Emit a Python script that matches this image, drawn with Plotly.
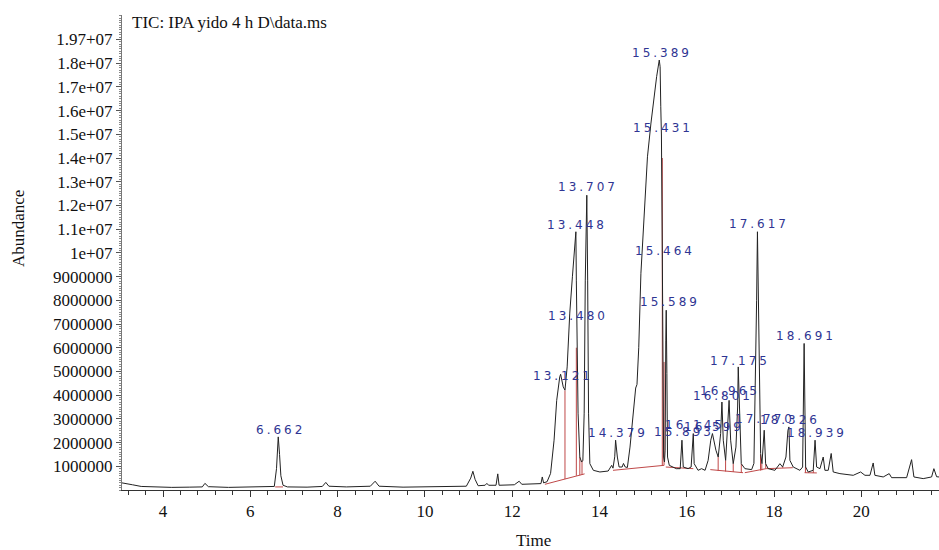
import numpy as np
import plotly.graph_objects as go

# ---- chromatogram trace (time in min, abundance in millions) ----
time_min = [3.06, 3.15, 3.30, 3.50, 3.80, 4.20, 4.60, 4.90, 4.96, 5.04, 5.50, 6.00, 6.40, 6.55,
            6.60, 6.64, 6.67, 6.70, 6.75, 6.85, 7.30, 7.65, 7.73, 7.80, 8.20, 8.75, 8.86, 8.95,
            9.50, 10.00, 10.50, 10.95, 11.05, 11.10, 11.15, 11.22, 11.38, 11.42, 11.46, 11.63,
            11.67, 11.70, 12.05, 12.16, 12.22, 12.50, 12.66, 12.69, 12.72, 12.80, 12.88, 12.96,
            13.02, 13.09, 13.11, 13.17, 13.21, 13.26, 13.32, 13.38, 13.44, 13.46, 13.47, 13.49,
            13.51, 13.55, 13.59, 13.62, 13.65, 13.675, 13.71, 13.73, 13.75, 13.78, 13.86, 14.01,
            14.20, 14.28, 14.31, 14.35, 14.37, 14.41, 14.45, 14.52, 14.55, 14.59, 14.64, 14.70,
            14.78, 14.83, 14.86, 14.90, 14.95, 15.03, 15.10, 15.18, 15.26, 15.31, 15.37, 15.39,
            15.405, 15.42, 15.44, 15.455, 15.47, 15.49, 15.505, 15.52, 15.53, 15.545, 15.56,
            15.60, 15.69, 15.76, 15.85, 15.89, 15.92, 16.03, 16.10, 16.15, 16.17, 16.26, 16.34,
            16.42, 16.49, 16.55, 16.589, 16.668, 16.721, 16.777, 16.806, 16.837, 16.891, 16.944,
            16.97, 17.006, 17.065, 17.127, 17.166, 17.18, 17.219, 17.249, 17.333, 17.487, 17.539,
            17.569, 17.601, 17.62, 17.645, 17.67, 17.693, 17.723, 17.762, 17.775, 17.807, 17.867,
            18.02, 18.135, 18.197, 18.273, 18.319, 18.341, 18.364, 18.44, 18.593, 18.655, 18.69,
            18.724, 18.783, 18.898, 18.94, 18.976, 19.052, 19.127, 19.166, 19.242, 19.31, 19.356,
            19.51, 19.815, 19.984, 20.083, 20.198, 20.272, 20.311, 20.502, 20.639, 20.694, 21.038,
            21.152, 21.205, 21.418, 21.61, 21.663, 21.725, 21.78]
abundance_e6 = [0.30, 0.28, 0.22, 0.15, 0.12, 0.11, 0.12, 0.13, 0.28, 0.14, 0.11, 0.12, 0.13, 0.15,
                0.90, 2.24, 1.50, 0.60, 0.20, 0.13, 0.12, 0.15, 0.32, 0.16, 0.13, 0.16, 0.37, 0.16,
                0.12, 0.13, 0.14, 0.16, 0.50, 0.79, 0.45, 0.18, 0.20, 0.28, 0.20, 0.20,
                0.68, 0.20, 0.22, 0.37, 0.24, 0.25, 0.27, 0.55, 0.30, 0.35, 0.70, 2.10,
                3.78, 4.77, 4.88, 4.35, 4.21, 5.19, 7.46, 8.99, 10.40, 10.89, 8.85, 6.03,
                3.24, 1.39, 1.18, 1.25, 3.24, 8.85, 12.43, 8.85, 3.24, 1.11, 0.83, 0.76,
                0.80, 1.04, 0.92, 1.40, 2.10, 1.39, 0.97, 0.97, 1.12, 0.97, 0.95, 1.81,
                3.24, 4.30, 4.45, 6.00, 9.14, 11.94, 14.05, 15.47, 16.86, 17.43, 18.13, 17.85,
                16.16, 14.97, 10.00, 4.92, 1.39, 1.18, 1.68, 6.32, 7.58, 4.92, 1.39,
                1.04, 0.97, 0.90, 0.90, 2.10, 0.97, 0.90, 0.97, 2.38, 1.11, 0.83, 0.90,
                0.83, 1.25, 2.10, 2.38, 1.68, 1.39, 2.38, 3.71, 2.10, 1.25, 2.66,
                3.78, 2.10, 1.11, 1.81, 3.50, 5.19, 2.38, 1.11, 0.90, 0.86, 1.12,
                3.78, 8.00, 10.89, 8.00, 3.78, 1.54, 1.11, 2.10, 2.52, 1.11, 0.90,
                0.83, 1.11, 0.97, 1.39, 2.52, 2.66, 1.25, 0.97, 0.83, 0.97, 6.18,
                0.97, 0.76, 0.83, 2.10, 0.97, 0.90, 1.39, 0.83, 0.83, 1.54, 0.76,
                0.69, 0.62, 0.76, 0.62, 0.62, 1.14, 0.62, 0.55, 0.69, 0.52, 0.52,
                1.28, 0.55, 0.48, 0.55, 0.90, 0.56, 0.55]

# ---- integration baselines (red), None separates segments ----
base_t = [6.57, 6.75, None, 12.75, 13.66, None, 14.31, 15.48, None, 15.52, 16.15, None,
          16.54, 17.29, None, 17.33, 17.82, 18.43, None, 18.70, 18.98]
base_v = [0.13, 0.13, None, 0.24, 0.68, None, 0.83, 1.04, None, 0.97, 0.90, None,
          0.86, 0.73, None, 0.73, 0.90, 0.94, None, 0.73, 0.72]

# ---- drop lines (red verticals) ----
drop_t = [13.21, 13.47, 13.55, 13.60, 15.44, 15.48, 16.72, 16.89, 17.065, 17.25, 17.69, 17.72,
          17.81, 18.20, 18.72, 18.90]
drop_lo = [0.46, 0.60, 0.62, 0.64, 1.04, 1.04, 0.80, 0.78, 0.76, 0.73, 0.82, 0.83, 0.90, 0.93,
           0.73, 0.72]
drop_hi = [4.20, 6.00, 1.39, 1.25, 14.00, 5.40, 1.39, 1.25, 1.11, 1.10, 1.50, 1.11, 1.11, 0.97,
           0.97, 0.83]

# ---- peak labels ----
peak_text = ["6.662", "13.121", "13.448", "13.480", "13.707", "14.379", "15.389", "15.431",
             "15.464", "15.589", "15.893", "16.145", "16.599", "16.801", "16.965", "17.175",
             "17.617", "17.770", "18.326", "18.691", "18.939"]
peak_label_y_e6 = [2.52, 4.80, 11.17, 7.32, 12.77, 2.39, 18.41, 15.25, 10.08, 7.93, 2.43, 2.73,
                   2.67, 3.95, 4.18, 5.43, 11.21, 3.01, 2.97, 6.49, 2.42]

# ---- axis ticks ----
y_tickvals_e6 = [1, 2, 3, 4, 5, 6, 7, 8, 9, 10, 11, 12, 13, 14, 15, 16, 17, 18, 19]
y_ticktext = ["1000000", "2000000", "3000000", "4000000", "5000000", "6000000", "7000000",
              "8000000", "9000000", "1e+07", "1.1e+07", "1.2e+07", "1.3e+07", "1.4e+07",
              "1.5e+07", "1.6e+07", "1.7e+07", "1.8e+07", "1.97+07"]
x_tickvals = [4, 6, 8, 10, 12, 14, 16, 18, 20]

M = 1e6
serif = "Liberation Serif, Times New Roman, serif"

fig = go.Figure()

bx, by = [], []
for t, v in zip(base_t, base_v):
    bx.append(t)
    by.append(None if v is None else v * M)
for t, lo, hi in zip(drop_t, drop_lo, drop_hi):
    bx += [None, t, t]
    by += [None, lo * M, hi * M]
fig.add_trace(go.Scatter(x=bx, y=by, mode="lines", line=dict(color="#bf4848", width=1),
                         hoverinfo="skip", showlegend=False))

fig.add_trace(go.Scatter(x=time_min, y=np.array(abundance_e6) * M, mode="lines",
                         line=dict(color="#222222", width=1), showlegend=False))

for txt, ly in zip(peak_text, peak_label_y_e6):
    fig.add_annotation(x=float(txt), y=ly * M, xref="x", yref="y",
                       text='<span style="letter-spacing:3px">' + txt + '</span>',
                       showarrow=False, xanchor="center", yanchor="middle", xshift=1.5,
                       font=dict(family="DejaVu Sans", size=12, color="#2f3593"))

fig.add_annotation(x=(130 - 122) / 817, y=(490 - 23) / 475, xref="paper", yref="paper",
                   text="TIC: IPA yido 4 h D\\data.ms", showarrow=False, xanchor="left",
                   yanchor="middle", font=dict(family=serif, size=17, color="#111"))
fig.add_annotation(x=(18 - 122) / 817, y=(490 - 229) / 475, xref="paper", yref="paper",
                   text="Abundance", showarrow=False, textangle=-90, xanchor="center",
                   yanchor="middle", font=dict(family=serif, size=17, color="#111"))
fig.add_annotation(x=(533 - 122) / 817, y=(490 - 540) / 475, xref="paper", yref="paper",
                   text="Time", showarrow=False, xanchor="center", yanchor="middle",
                   font=dict(family=serif, size=17, color="#111"))

fig.update_layout(
    width=939, height=550,
    margin=dict(l=122, r=0, t=15, b=60),
    paper_bgcolor="white", plot_bgcolor="white",
    xaxis=dict(range=[3.06, 21.78], tickvals=x_tickvals, ticks="outside", ticklen=6,
               tickcolor="#333", showline=True, linecolor="#333", linewidth=1,
               showgrid=False, zeroline=False,
               tickfont=dict(family=serif, size=17, color="#111"),
               minor=dict(dtick=0.4, tick0=0, ticks="outside", ticklen=4, tickcolor="#333")),
    yaxis=dict(range=[0, 20.03 * M], tickvals=[v * M for v in y_tickvals_e6],
               ticktext=y_ticktext, ticks="outside", ticklen=5, tickcolor="#555",
               showline=True, linecolor="#777", linewidth=1, showgrid=False, zeroline=False,
               tickfont=dict(family=serif, size=17, color="#111"),
               minor=dict(dtick=0.1 * M, tick0=0, ticks="outside", ticklen=2,
                          tickcolor="#888")),
)

fig.write_html("out.html", config={"displayModeBar": False},
               post_script="document.body.style.margin='0';document.body.style.overflow='hidden';")
